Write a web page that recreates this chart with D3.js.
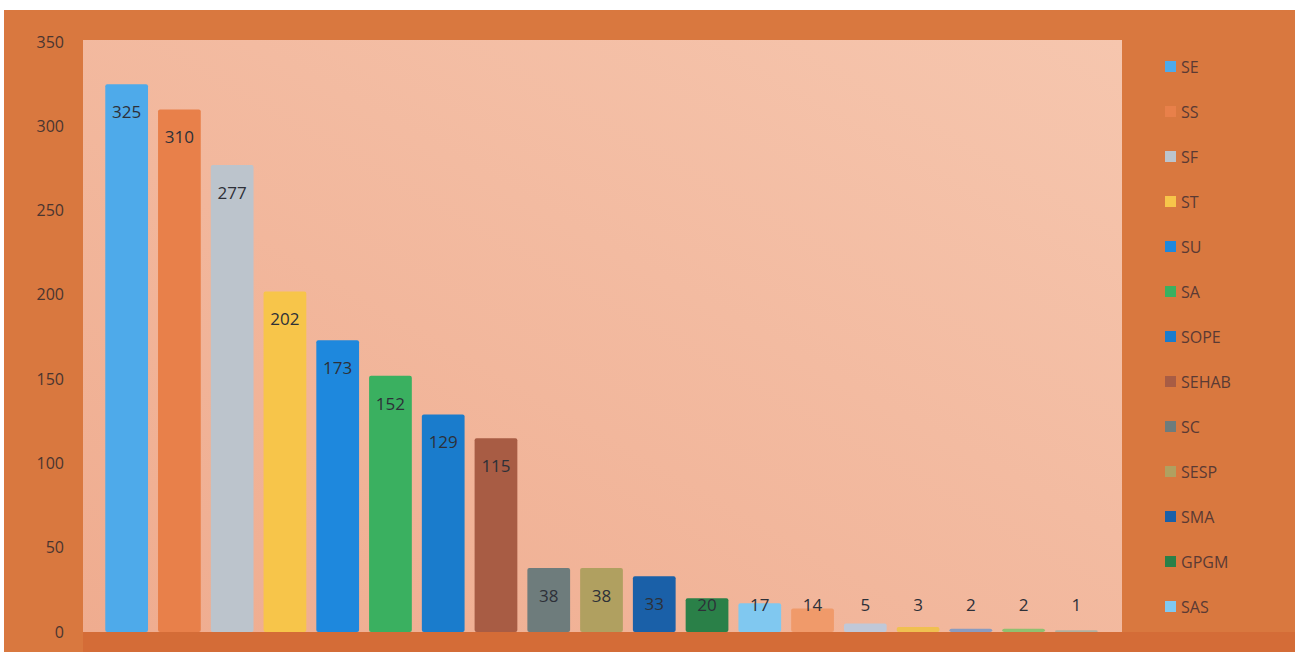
<!DOCTYPE html>
<html>
<head>
<meta charset="utf-8">
<script src="https://cdn.jsdelivr.net/npm/d3@7"></script>
<style>
  body { margin: 0; background: #fff; }
  svg { display: block; font-family: "Open Sans", "Noto Sans", sans-serif; }
</style>
</head>
<body>
<svg width="1295" height="652"></svg>
<script>
// values, bars left to right
let categories = ["SE", "SS", "SF", "ST", "SU", "SA", "SOPE", "SEHAB", "SC", "SESP", "SMA", "GPGM", "SAS",
                  "C14", "C15", "C16", "C17", "C18", "C19"];
let values = [325, 310, 277, 202, 173, 152, 129, 115, 38, 38, 33, 20, 17, 14, 5, 3, 2, 2, 1];
let barColors = ["#4eaaea", "#e8804a", "#bcc4cc", "#f7c54a", "#1e88dd", "#3ab060", "#1a7ccc", "#a85c44",
                 "#6e7c7c", "#b0a060", "#1a60a8", "#2a8048", "#80c8f0", "#f09a6a", "#c0c8d8", "#f0c050",
                 "#8a9cc0", "#90c070", "#b0b0a0"];
let legendNames = categories.slice(0, 13); // legend is cut off after SAS
let yTicks = [0, 50, 100, 150, 200, 250, 300, 350];

let plot = {left: 83, top: 40, right: 1122, bottom: 632};

var svg = d3.select("svg");

// 背景
svg.append("rect")
    .attr("x", 4).attr("y", 10)
    .attr("width", 1291).attr("height", 642)
    .attr("fill", "#d9783f");

let defs = svg.append("defs");
let grad = defs.append("linearGradient")
    .attr("id", "plotbg")
    .attr("x1", "0%").attr("y1", "100%")
    .attr("x2", "100%").attr("y2", "0%");
grad.append("stop").attr("offset", "0%").attr("stop-color", "#efac8f");
grad.append("stop").attr("offset", "100%").attr("stop-color", "#f6c6ae");

svg.append("rect")
    .attr("x", plot.left).attr("y", plot.top)
    .attr("width", plot.right - plot.left)
    .attr("height", plot.bottom - plot.top)
    .attr("fill", "url(#plotbg)");

// bottom band under plot
svg.append("rect")
    .attr("x", plot.left).attr("y", plot.bottom)
    .attr("width", 1295 - plot.left).attr("height", 652 - plot.bottom)
    .attr("fill", "#d46c37");

var x = d3.scaleBand()
    .domain(categories)
    .range([100, 1103])
    .paddingInner(0.19)
    .paddingOuter(0.1);

var y = d3.scaleLinear()
    .domain([0, 350])
    .range([632, 42]);

// y axis labels
var yAxis = svg.append("g")
    .attr("transform", "translate(64,0)")
    .call(d3.axisLeft(y).tickValues(yTicks).tickSize(0).tickPadding(0));
yAxis.select(".domain").remove();
yAxis.selectAll("text")
    .attr("fill", "#4a3530")
    .style("font-size", "16px")
    .style("font-family", "'Open Sans', sans-serif");

// bars
svg.selectAll(".bar")
    .data(values)
    .enter()
    .append("rect")
    .attr("class", "bar")
    .attr("x", (d, i) => x(categories[i]))
    .attr("y", d => y(d))
    .attr("width", x.bandwidth())
    .attr("height", d => y(0) - y(d))
    .attr("rx", 2)
    .attr("fill", (d, i) => barColors[i]);

// value labels
svg.selectAll(".val")
    .data(values)
    .enter()
    .append("text")
    .attr("class", "val")
    .attr("x", (d, i) => x(categories[i]) + x.bandwidth() / 2)
    .attr("y", d => Math.min(y(d) + 28, y(0) - 27))
    .attr("dy", "0.35em")
    .attr("text-anchor", "middle")
    .attr("fill", "#2d3038")
    .style("font-size", "17px")
    .text(d => d);

// legend
var legend = svg.append("g");
var item = legend.selectAll("g")
    .data(legendNames)
    .enter()
    .append("g")
    .attr("transform", (d, i) => `translate(1165,${67 + i * 45})`);
item.append("rect")
    .attr("x", 0).attr("y", -6)
    .attr("width", 11).attr("height", 11)
    .attr("fill", (d, i) => barColors[i]);
item.append("text")
    .attr("x", 16)
    .attr("dy", "0.35em")
    .attr("fill", "#5a3a34")
    .style("font-size", "16px")
    .text(d => d);
</script>
</body>
</html>
